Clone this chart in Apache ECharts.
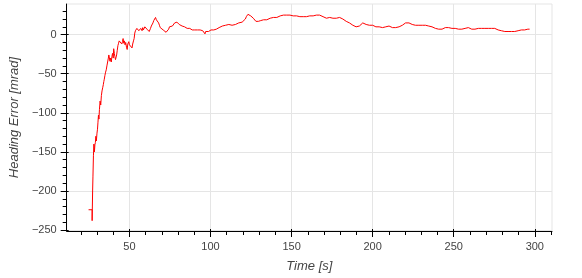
<!DOCTYPE html>
<html><head><meta charset="utf-8">
<script src="https://cdn.jsdelivr.net/npm/echarts@6/dist/echarts.min.js"></script>
<style>html,body{margin:0;padding:0;background:#fff}#c{width:582px;height:278px}</style>
</head><body><div id="c"></div>
<script>
const time = [24.8,27.0,27.0,27.3,27.5,27.8,28.1,28.4,28.7,29.0,29.3,29.6,30.0,30.3,30.6,30.9,31.2,31.5,31.9,32.3,32.7,33.1,33.5,33.9,34.2,34.5,34.9,35.3,35.7,36.1,36.6,37.0,37.3,37.7,38.0,38.4,38.8,39.2,39.6,40.0,40.3,40.7,41.0,41.4,41.7,42.1,42.5,42.9,43.3,43.7,44.1,44.5,44.9,45.3,45.7,46.1,46.5,46.9,47.3,47.7,48.2,48.6,49.0,49.6,50.0,50.4,50.8,51.2,51.6,52.0,52.5,52.9,53.3,53.7,54.2,54.6,55.0,55.3,55.8,56.2,56.6,57.0,57.4,57.8,58.2,58.6,59.0,59.5,60.0,60.4,60.8,61.3,61.8,62.2,62.6,63.0,63.5,64.0,64.5,65.0,65.5,66.1,66.6,67.0,67.5,68.0,68.5,69.0,69.6,70.2,70.8,71.4,72.0,72.6,73.2,73.7,74.2,74.7,75.3,75.9,76.5,77.2,77.9,78.7,79.3,80.0,80.7,81.3,81.8,82.5,83.2,84.0,84.8,85.6,86.4,87.2,87.9,88.7,89.5,90.3,91.2,92.0,92.8,93.6,94.4,95.2,96.1,96.6,97.0,97.5,98.1,98.8,99.5,100.3,101.2,102.0,102.8,103.6,104.4,105.3,106.3,107.3,108.3,109.3,110.3,111.3,112.3,113.3,114.3,115.4,116.4,117.4,118.4,119.5,120.5,121.5,122.1,122.6,123.1,123.6,124.2,124.8,125.6,126.4,127.2,128.0,128.7,129.5,130.2,131.0,131.7,132.7,133.7,134.7,135.7,136.8,137.8,138.8,139.9,140.9,142.0,143.0,144.0,145.0,146.0,147.0,148.0,149.0,150.0,151.0,152.0,153.1,154.1,155.1,156.2,157.2,158.2,159.2,160.2,161.2,162.2,163.3,164.3,165.3,166.3,167.3,168.4,169.4,170.4,171.5,172.5,173.5,174.5,175.5,176.6,177.6,178.6,179.6,180.6,181.6,182.7,183.7,184.7,185.7,186.7,187.8,188.8,189.8,190.8,191.8,192.9,193.9,195.0,196.0,197.0,198.0,199.0,200.0,201.0,202.0,203.0,204.0,205.1,206.1,207.1,208.1,209.1,210.1,211.2,212.2,213.2,214.2,215.3,216.3,217.3,218.3,219.3,220.3,221.4,222.4,223.4,224.4,225.4,226.4,227.5,228.5,229.5,230.6,231.6,232.6,233.6,234.6,235.6,236.6,237.7,238.7,239.7,240.7,241.8,242.8,243.8,244.8,245.8,246.8,247.9,248.9,249.9,250.9,251.9,253.0,254.0,255.0,256.0,257.0,258.0,259.0,260.1,261.1,262.1,263.1,264.2,265.2,266.2,267.2,268.2,269.2,270.2,271.3,272.3,273.3,274.3,275.3,276.4,277.4,278.4,279.4,280.5,281.5,282.5,283.5,284.6,285.6,286.6,287.6,288.6,289.7,290.7,291.7,292.7,293.7,294.7,295.7,296.8];
const headingError = [-224,-224,-238,-200,-182,-155,-140,-150,-141,-138,-130,-136,-126,-121,-112,-103,-108,-96,-85,-90,-78,-72,-68,-64,-60,-57,-52,-48,-45,-40,-38,-30,-26,-24,-34,-30,-35,-28,-24,-30,-18,-24,-28,-32,-34,-26,-20,-14,-11,-8,-6,-10,-7,-12,-9,-5,-11,-8,-13,-10,-16,-19,-12,-9,-13,-11,-15,-13,-17,-12,-8,-5,2,5,3,8,10,9,5,7,4,8,7,5,9,6,8,10,8,9,7,5,6,4,5,8,11,13,15,18,20,22,19,21,17,15,12,9,7,8,6,7,5,3,5,4,7,10,11,9,11,13,15,17,16,15,13,14,12,11,12,10,10,8,9,8,7,6,7,6,5,6,5,6,4,5,3,1,4,2,6,4,5,6,7,6,8,7,9,9,10,11,10,12,11,13,14,12,14,13,14,15,14,16,17,20,23,24,26,25,26,24,23,21,19,17,16,17,18,18,19,19,20,19,21,21,20,22,21,22,23,24,24,25,26,25,26,25,25,24,25,24,24,23,24,23,24,23,24,24,25,24,25,25,24,25,24,23,22,21,21,22,22,21,22,21,22,22,21,20,19,17,16,15,13,12,11,10,10,11,13,15,14,13,12,12,11,12,11,10,11,10,10,9,9,10,11,11,10,9,8,9,10,10,11,12,14,15,16,15,14,13,13,12,13,12,12,12,11,12,11,11,11,10,9,8,8,7,8,7,8,9,8,9,9,8,8,8,7,7,8,7,8,8,9,9,8,7,8,7,8,8,8,8,8,8,9,8,8,8,9,8,7,6,5,5,5,4,4,4,3,4,4,4,4,5,5,6,6,6,7,7,7];
const xMajorTicks = [50,100,150,200,250,300];
const xMinorTicks = [20,30,40,60,70,80,90,110,120,130,140,160,170,180,190,210,220,230,240,260,270,280,290,310];
const yMajorTicks = [-250,-200,-150,-100,-50,0];
const yMinorTicks = [-240,-230,-220,-210,-190,-180,-170,-160,-140,-130,-120,-110,-90,-80,-70,-60,-40,-30,-20,-10,10,20,30];
const xRange = [11.3, 310.6];
const yRange = [-251.2, 39.2];

const FONT = 'Liberation Sans';
const fmt = v => v < 0 ? '\u2212' + Math.abs(v) : String(v);
function xAx(extra) {
  return Object.assign({type:'value', position:'bottom', min:xRange[0], max:xRange[1],
    axisLine:{show:false, onZero:false}, axisTick:{show:false}, axisLabel:{show:false},
    splitLine:{show:false}, minorTick:{show:false}}, extra);
}
function yAx(extra) {
  return Object.assign({type:'value', position:'left', min:yRange[0], max:yRange[1],
    axisLine:{show:false, onZero:false}, axisTick:{show:false}, axisLabel:{show:false},
    splitLine:{show:false}, minorTick:{show:false}}, extra);
}
const chart = echarts.init(document.getElementById('c'), null, {renderer:'canvas'});
chart.setOption({
  animation:false,
  grid:{left:63, right:30, top:4, bottom:46, show:true, borderColor:'#e5e5e5', borderWidth:1, backgroundColor:'#fff'},
  xAxis:[
    xAx({axisLine:{show:true, onZero:false, lineStyle:{color:'#000', width:1}},
      axisTick:{show:true, customValues:xMajorTicks, length:6, lineStyle:{color:'#000', width:1}},
      axisLabel:{show:true, customValues:xMajorTicks, margin:10, color:'#444', fontFamily:FONT, fontSize:11, formatter:fmt},
      splitLine:{show:true, lineStyle:{color:'#e5e5e5', width:1}},
      name:'Time [s]', nameLocation:'middle', nameGap:29,
      nameTextStyle:{color:'#444', fontFamily:FONT, fontSize:13, fontStyle:'italic'}}),
    xAx({axisTick:{show:true, customValues:xMinorTicks, length:4, lineStyle:{color:'#000', width:1}}}),
    xAx({axisTick:{show:true, inside:true, customValues:xMajorTicks, length:2, lineStyle:{color:'#000', width:1}}})
  ],
  yAxis:[
    yAx({axisLine:{show:true, onZero:false, lineStyle:{color:'#000', width:1}},
      axisTick:{show:true, customValues:yMajorTicks, length:6, lineStyle:{color:'#000', width:1}},
      axisLabel:{show:true, customValues:yMajorTicks, margin:10, color:'#444', fontFamily:FONT, fontSize:11, formatter:fmt},
      splitLine:{show:true, lineStyle:{color:'#e5e5e5', width:1}},
      name:'Heading Error [mrad]', nameLocation:'middle', nameGap:43,
      nameTextStyle:{color:'#444', fontFamily:FONT, fontSize:13, fontStyle:'italic'}}),
    yAx({axisTick:{show:true, customValues:yMinorTicks, length:4, lineStyle:{color:'#000', width:1}}}),
    yAx({axisTick:{show:true, inside:true, customValues:yMajorTicks, length:2, lineStyle:{color:'#000', width:1}}})
  ],
  series:[{type:'line', xAxisIndex:0, yAxisIndex:0, data: time.map((t,i)=>[t, headingError[i]]),
    showSymbol:false, symbol:'none', lineStyle:{color:'#ff0000', width:1}, itemStyle:{color:'#ff0000'}, z:1}]
});
</script></body></html>
